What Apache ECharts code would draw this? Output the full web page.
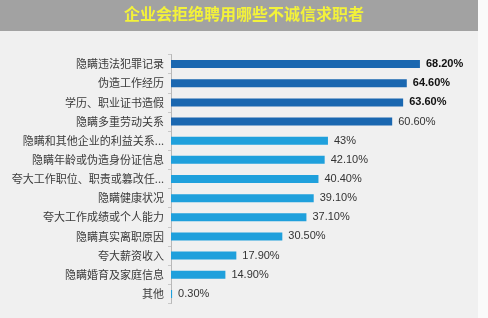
<!DOCTYPE html>
<html><head><meta charset="utf-8">
<script src="https://cdn.jsdelivr.net/npm/echarts@6/dist/echarts.min.js"></script>
<style>html,body{margin:0;padding:0;background:#fff}#c{width:488px;height:318px}</style>
</head><body><div id="c"></div>
<script>
const titleText = '企业会拒绝聘用哪些不诚信求职者';
const categories = ['隐瞒违法犯罪记录','伪造工作经历','学历、职业证书造假','隐瞒多重劳动关系','隐瞒和其他企业的利益关系...','隐瞒年龄或伪造身份证信息','夸大工作职位、职责或篡改任...','隐瞒健康状况','夸大工作成绩或个人能力','隐瞒真实离职原因','夸大薪资收入','隐瞒婚育及家庭信息','其他'];
const values = [68.2,64.6,63.6,60.6,43,42.1,40.4,39.1,37.1,30.5,17.9,14.9,0.3];
const valueLabels = ['68.20%','64.60%','63.60%','60.60%','43%','42.10%','40.40%','39.10%','37.10%','30.50%','17.90%','14.90%','0.30%'];
const darkCount = 4;
const boldCount = 3;

const chart = echarts.init(document.getElementById('c'));
chart.setOption({
  backgroundColor: '#f0f0f0',
  animation: false,
  graphic: [
    {type:'rect', shape:{x:478,y:0,width:10,height:318}, style:{fill:'#fafafa'}, z:-1},
    {type:'rect', shape:{x:0,y:0,width:478,height:31}, style:{fill:'#a2a2a2'}},
    {type:'text', left:'center', top:6, style:{text:titleText, fill:'#f3f23a', font:'bold 16px "Noto Sans CJK SC"', textAlign:'center'}}
  ],
  grid: {left:171, right:25, top:54.5, bottom:14.5},
  xAxis: {type:'value', min:0, max:80, show:false},
  yAxis: {
    type:'category', inverse:true, data:categories,
    axisLine:{show:true, lineStyle:{color:'#b8b8b8', width:1}},
    axisTick:{show:true, length:3, lineStyle:{color:'#c8c8c8'}},
    axisLabel:{color:'#3a3a3a', fontSize:11, fontFamily:'"Noto Sans CJK SC"', margin:7}
  },
  series: [{
    type:'bar', barWidth:8,
    data: values.map((v,i)=>({
      value:v,
      itemStyle:{color: i<darkCount ? '#1a67b0' : '#1fa0dc'},
      label:{fontWeight: i<boldCount ? 'bold' : 'normal', color: i<boldCount ? '#111' : '#333'}
    })),
    label:{show:true, position:'right', distance:6, fontSize:11, fontFamily:'Arial, "Liberation Sans"',
      formatter: p => valueLabels[p.dataIndex]}
  }]
});
</script></body></html>
